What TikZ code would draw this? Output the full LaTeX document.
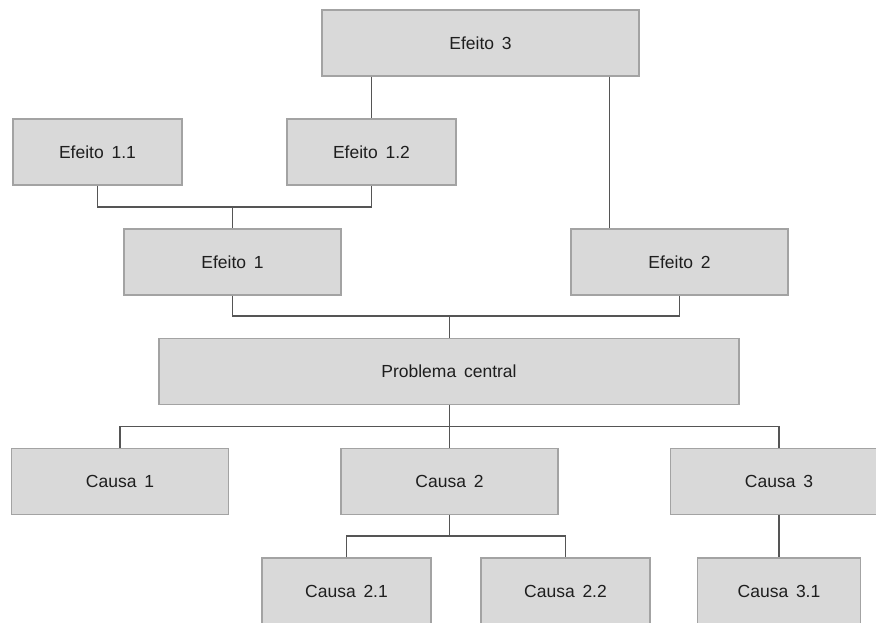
\documentclass[tikz,border=0pt]{standalone}
\usepackage{fontspec}
\setmainfont[WordSpace={1.6,0,0}]{Liberation Sans}
\definecolor{boxfill}{HTML}{D9D9D9}
\definecolor{boxline}{HTML}{A3A3A3}
\definecolor{wire}{HTML}{555555}
\definecolor{ink}{HTML}{1E1E1E}
\begin{document}
\begin{tikzpicture}[x=1pt,y=-1pt,
  box/.style={draw=boxline,fill=boxfill,line width=1.3pt,rectangle,inner sep=0pt,
    minimum height=66pt,text=ink,font=\fontsize{17.5}{20}\selectfont},
  wide/.style={box,minimum width=217pt},
  narrow/.style={box,minimum width=169pt},
  link/.style={draw=wire,line width=1.2pt}]
\useasboundingbox (0,0) rectangle (876,623);
\clip (0,0) rectangle (876,623);
% effects
\node[box,minimum width=317pt] (e3) at (480.5,43) {Efeito 3};
\node[narrow] (e11) at (97.5,152) {Efeito 1.1};
\node[narrow] (e12) at (371.5,152) {Efeito 1.2};
\node[wide] (e1) at (232.5,262) {Efeito 1};
\node[wide] (e2) at (679.5,262) {Efeito 2};
% central problem
\node[box,minimum width=580pt] (pc) at (449,371.5) {Problema central};
% causes
\node[wide] (c1) at (120,481.5) {Causa 1};
\node[wide] (c2) at (449.5,481.5) {Causa 2};
\node[wide] (c3) at (779,481.5) {Causa 3};
\node[narrow] (c21) at (346.5,591) {Causa 2.1};
\node[narrow] (c22) at (565.5,591) {Causa 2.2};
\node[box,minimum width=163pt] (c31) at (779,591) {Causa 3.1};
% connectors
\coordinate (j1) at (232.5,207);
\coordinate (j2) at (449.3,316);
\coordinate (j3) at (449.3,426.3);
\coordinate (j4) at (449.3,536);
\coordinate (r2) at (609.3,0);
\draw[link] (e11.south) |- (j1) -| (e12.south);
\draw[link] (j1) -- (e1.north);
\draw[link] (e3.south -| e12.north) -- (e12.north);
\draw[link] (e3.south -| r2) -- (e2.north -| r2);
\draw[link] (e1.south) |- (j2) -| (e2.south);
\draw[link] (j2) -- (pc.north -| j2);
\draw[link] (pc.south -| j3) -- (c2.north -| j3);
\draw[link] (c1.north) |- (j3) -| (c3.north);
\draw[link] (c2.south -| j4) -- (j4);
\draw[link] (c21.north) |- (j4) -| (c22.north);
\draw[link] (c3.south) -- (c31.north);
\end{tikzpicture}
\end{document}
